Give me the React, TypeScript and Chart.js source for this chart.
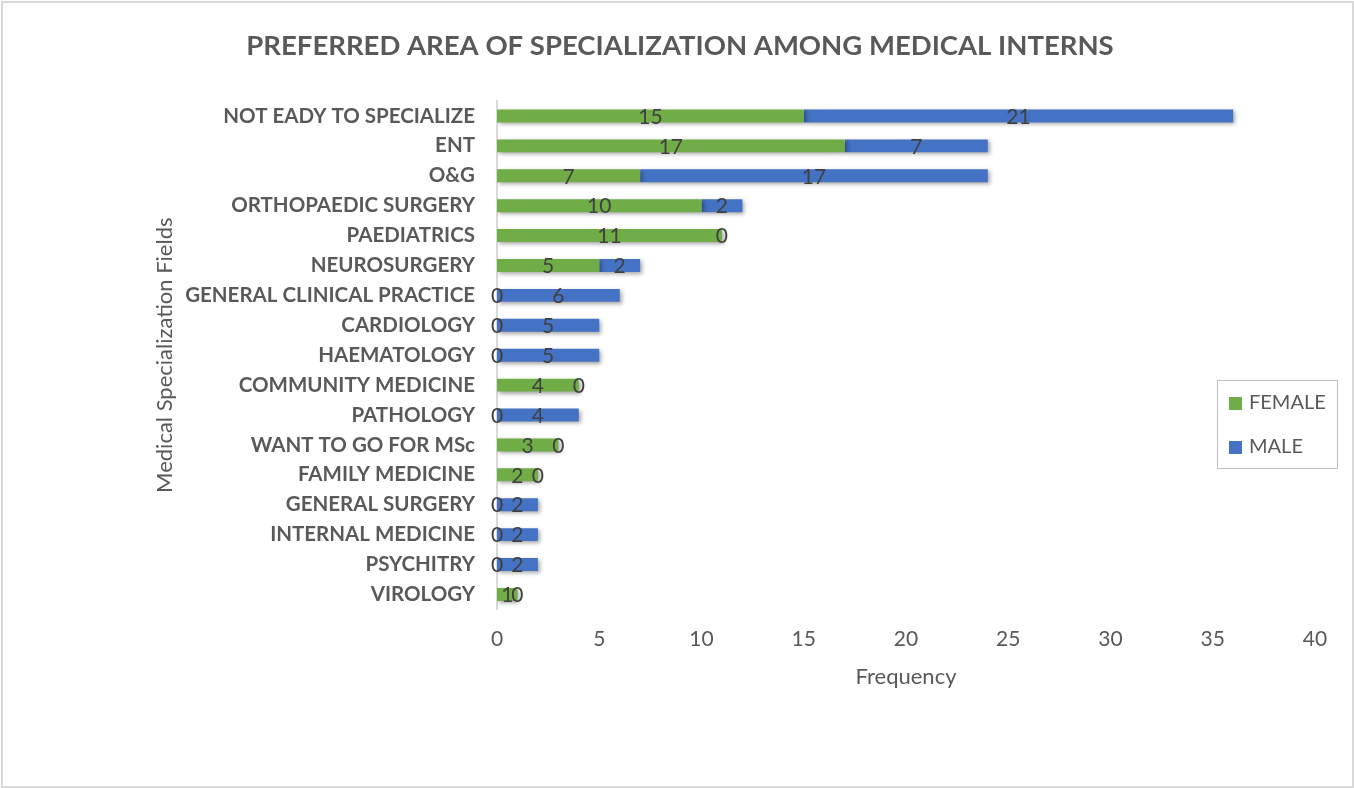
import React, { useEffect, useRef } from "react";
import { Chart, registerables } from "chart.js";
Chart.register(...registerables);

const categories = [
  "NOT EADY TO SPECIALIZE",
  "ENT",
  "O&G",
  "ORTHOPAEDIC SURGERY",
  "PAEDIATRICS",
  "NEUROSURGERY",
  "GENERAL CLINICAL PRACTICE",
  "CARDIOLOGY",
  "HAEMATOLOGY",
  "COMMUNITY MEDICINE",
  "PATHOLOGY",
  "WANT TO GO FOR MSc",
  "FAMILY MEDICINE",
  "GENERAL SURGERY",
  "INTERNAL MEDICINE",
  "PSYCHITRY",
  "VIROLOGY",
];
const female = [15, 17, 7, 10, 11, 5, 0, 0, 0, 4, 0, 3, 2, 0, 0, 0, 1];
const male = [21, 7, 17, 2, 0, 2, 6, 5, 5, 0, 4, 0, 0, 2, 2, 2, 0];
const seriesNames = ["FEMALE", "MALE"];
const seriesColors = ["#70AD47", "#4472C4"];
const chartTitle = "PREFERRED AREA OF SPECIALIZATION AMONG MEDICAL INTERNS";

const FONT = "Lato, 'Open Sans', sans-serif";
const GRAY = "#595959";

const shadowPlugin = {
  id: "barShadow",
  beforeDatasetDraw(chart: any) {
    const ctx = chart.ctx;
    ctx.save();
    ctx.shadowColor = "rgba(0,0,0,0.35)";
    ctx.shadowBlur = 4;
    ctx.shadowOffsetX = 2;
    ctx.shadowOffsetY = 2;
  },
  afterDatasetDraw(chart: any) {
    chart.ctx.restore();
  },
};

const labelsPlugin = {
  id: "dataLabels",
  afterDatasetsDraw(chart: any) {
    const ctx = chart.ctx;
    ctx.save();
    ctx.font = `21px ${FONT}`;
    ctx.fillStyle = "#404040";
    ctx.textAlign = "center";
    ctx.textBaseline = "middle";
    chart.data.datasets.forEach((ds: any, di: number) => {
      const meta = chart.getDatasetMeta(di);
      meta.data.forEach((bar: any, i: number) => {
        const x = (bar.x + bar.base) / 2;
        ctx.fillText(String(ds.data[i]), x, bar.y + 1);
      });
    });
    ctx.restore();
  },
};

const overlayPlugin = {
  id: "overlay",
  afterDraw(chart: any) {
    const ctx = chart.ctx;
    ctx.save();
    // title
    ctx.font = `bold 27.5px ${FONT}`;
    ctx.fillStyle = GRAY;
    ctx.textAlign = "center";
    ctx.textBaseline = "middle";
    ctx.fillText(chartTitle, 680, 46);
    // legend
    const left = 1217, top = 380, w = 120, h = 88;
    ctx.strokeStyle = "#bfbfbf";
    ctx.lineWidth = 1;
    ctx.strokeRect(left + 0.5, top + 0.5, w, h);
    ctx.font = `20px ${FONT}`;
    ctx.textAlign = "left";
    seriesNames.forEach((name, i) => {
      const y = top + 23 + i * 44;
      ctx.fillStyle = seriesColors[i];
      ctx.fillRect(left + 12, y - 6, 13, 13);
      ctx.fillStyle = GRAY;
      ctx.fillText(name, left + 32, y);
    });
    ctx.restore();
  },
};

export default function App() {
  const ref = useRef<HTMLCanvasElement>(null);
  useEffect(() => {
    const chart = new Chart(ref.current!, {
      type: "bar",
      data: {
        labels: categories,
        datasets: [
          { label: seriesNames[0], data: female, backgroundColor: seriesColors[0], barPercentage: 0.9, categoryPercentage: 0.48 },
          { label: seriesNames[1], data: male, backgroundColor: seriesColors[1], barPercentage: 0.9, categoryPercentage: 0.48 },
        ],
      },
      plugins: [shadowPlugin, labelsPlugin, overlayPlugin],
      options: {
        indexAxis: "y",
        animation: false,
        responsive: false,
        maintainAspectRatio: false,
        layout: { padding: { left: 148, right: 39, top: 101, bottom: 94 } },
        plugins: {
          legend: { display: false },
          tooltip: { enabled: false },
          title: { display: false },
        },
        scales: {
          x: {
            stacked: true,
            min: 0,
            max: 40,
            ticks: { stepSize: 5, color: GRAY, font: { family: FONT, size: 21 }, padding: 9 },
            grid: { display: false },
            border: { display: false },
            title: { display: true, text: "Frequency", color: GRAY, font: { family: FONT, size: 22 }, padding: { top: 3, bottom: 4 } },
          },
          y: {
            stacked: true,
            ticks: { color: GRAY, font: { family: FONT, size: 20.5, weight: "bold" }, padding: 22, autoSkip: false },
            grid: { drawOnChartArea: false, drawTicks: false, color: "#d9d9d9" },
            border: { display: true, color: "#d9d9d9", width: 2 },
            title: { display: true, text: "Medical Specialization Fields", color: GRAY, font: { family: FONT, size: 22 }, padding: 4 },
            afterFit: (s: any) => { s.width = 349; },
          },
        },
      },
    } as any);
    return () => chart.destroy();
  }, []);
  return (
    <div style={{ position: "absolute", left: 0, top: 0, width: 1354, height: 788, background: "#fff" }}>
      <canvas ref={ref} width={1354} height={788} style={{ display: "block" }} />
      <div style={{ position: "absolute", left: 1, top: 1, width: 1349, height: 783, border: "2px solid #d9d9d9", pointerEvents: "none" }} />
    </div>
  );
}
